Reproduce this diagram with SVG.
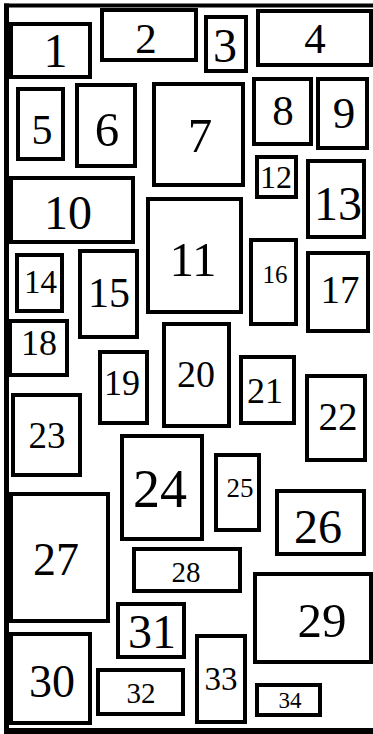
<svg xmlns="http://www.w3.org/2000/svg" width="373" height="734" viewBox="0 0 373 734">
<style>
rect.b{fill:#fff;stroke:#000;stroke-width:4}
text{font-family:'Liberation Serif','Times New Roman',serif;fill:#000;text-anchor:middle}
</style>
<rect x="0" y="0" width="373" height="734" fill="#fff"/>
<g id="frame" fill="none" stroke="#000">
<line x1="4" y1="5.5" x2="373" y2="5.5" stroke-width="4"/>
<line x1="6.5" y1="3.5" x2="6.5" y2="731" stroke-width="5"/>
<line x1="4" y1="731" x2="373" y2="731" stroke-width="6"/>
</g>
<g id="connectors"></g>
<g id="n1"><rect class="b" x="11" y="24" width="79" height="53"/><text x="55.5" y="67" font-size="48">1</text></g>
<g id="n2"><rect class="b" x="102" y="10" width="94" height="50"/><text x="146" y="53" font-size="43">2</text></g>
<g id="n3"><rect class="b" x="206" y="17" width="40" height="54"/><text x="225" y="62" font-size="48">3</text></g>
<g id="n4"><rect class="b" x="258" y="11" width="113" height="54"/><text x="315" y="53" font-size="43">4</text></g>
<g id="n5"><rect class="b" x="18" y="89" width="45" height="70"/><text x="42" y="144" font-size="42">5</text></g>
<g id="n6"><rect class="b" x="77" y="85" width="58" height="81"/><text x="107" y="146" font-size="49">6</text></g>
<g id="n7"><rect class="b" x="154" y="84" width="89" height="101"/><text x="200" y="152" font-size="49">7</text></g>
<g id="n8"><rect class="b" x="254" y="79" width="57" height="65"/><text x="283" y="125" font-size="43">8</text></g>
<g id="n9"><rect class="b" x="318" y="79" width="49" height="69"/><text x="344" y="128" font-size="45">9</text></g>
<g id="n10"><rect class="b" x="11" y="178" width="122" height="64"/><text x="68" y="229" font-size="48">10</text></g>
<g id="n11"><rect class="b" x="148" y="199" width="93" height="113"/><text x="193" y="276" font-size="49">11</text></g>
<g id="n12"><rect class="b" x="257" y="157" width="39" height="40"/><text x="276" y="188" font-size="32">12</text></g>
<g id="n13"><rect class="b" x="308" y="161" width="56" height="76"/><text x="338" y="220" font-size="48">13</text></g>
<g id="n14"><rect class="b" x="17" y="255" width="45" height="56"/><text x="40.5" y="293" font-size="33">14</text></g>
<g id="n15"><rect class="b" x="80" y="251" width="57" height="86"/><text x="109" y="307" font-size="42">15</text></g>
<g id="n16"><rect class="b" x="251" y="240" width="45" height="84"/><text x="275" y="283" font-size="25">16</text></g>
<g id="n17"><rect class="b" x="308" y="253" width="60" height="78"/><text x="340" y="303" font-size="39">17</text></g>
<g id="n18"><rect class="b" x="10" y="321" width="57" height="54"/><text x="39" y="355" font-size="36">18</text></g>
<g id="n19"><rect class="b" x="100" y="352" width="47" height="71"/><text x="122" y="395" font-size="36">19</text></g>
<g id="n20"><rect class="b" x="164" y="324" width="65" height="102"/><text x="196" y="387" font-size="38">20</text></g>
<g id="n21"><rect class="b" x="241" y="357" width="53" height="66"/><text x="265" y="403" font-size="36">21</text></g>
<g id="n22"><rect class="b" x="307" y="376" width="58" height="84"/><text x="338" y="430" font-size="39">22</text></g>
<g id="n23"><rect class="b" x="13" y="395" width="67" height="80"/><text x="47" y="448" font-size="37">23</text></g>
<g id="n24"><rect class="b" x="122" y="436" width="80" height="103"/><text x="160" y="507" font-size="54">24</text></g>
<g id="n25"><rect class="b" x="216" y="455" width="43" height="75"/><text x="240" y="497" font-size="27">25</text></g>
<g id="n26"><rect class="b" x="277" y="491" width="87" height="63"/><text x="318" y="543" font-size="48">26</text></g>
<g id="n27"><rect class="b" x="11" y="494" width="97" height="127"/><text x="56" y="575" font-size="46">27</text></g>
<g id="n28"><rect class="b" x="134" y="549" width="106" height="42"/><text x="186" y="582" font-size="29">28</text></g>
<g id="n29"><rect class="b" x="255" y="574" width="116" height="88"/><text x="322" y="637" font-size="49">29</text></g>
<g id="n30"><rect class="b" x="11" y="634" width="79" height="89"/><text x="52" y="697" font-size="46">30</text></g>
<g id="n31"><rect class="b" x="118" y="604" width="66" height="53"/><text x="152" y="648" font-size="48">31</text></g>
<g id="n32"><rect class="b" x="98" y="670" width="85" height="44"/><text x="141" y="703" font-size="29">32</text></g>
<g id="n33"><rect class="b" x="197" y="636" width="48" height="86"/><text x="221" y="690" font-size="33">33</text></g>
<g id="n34"><rect class="b" x="257" y="685" width="63" height="30"/><text x="290" y="708" font-size="23">34</text></g>
</svg>
